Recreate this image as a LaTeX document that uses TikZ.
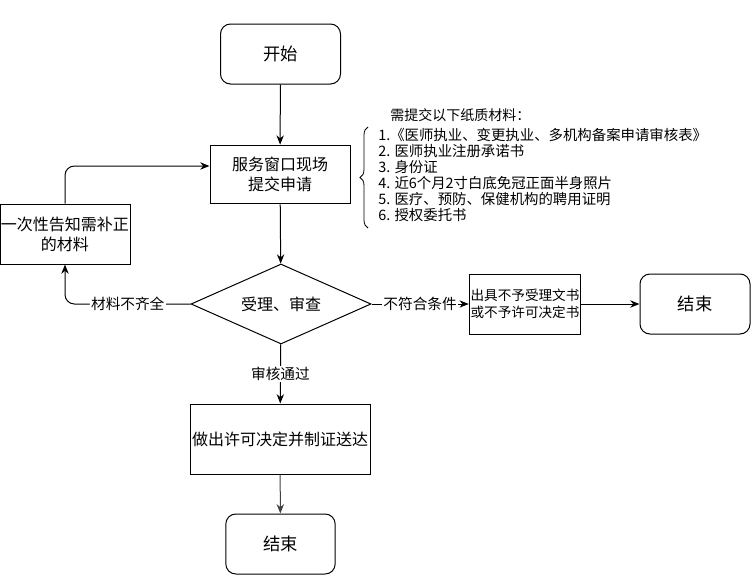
\documentclass[tikz,border=0pt]{standalone}
\usepackage{fontspec}
\setmainfont{Noto Sans CJK SC}
\usetikzlibrary{shapes.geometric,arrows.meta,decorations.pathreplacing,calc}
\begin{document}
\begin{tikzpicture}[x=0.75pt,y=-0.75pt,
  box/.style={draw, line width=0.75pt, align=center, inner sep=1pt, font=\fontsize{12}{15}\selectfont},
  rbox/.style={box, rounded corners=7.5pt, font=\fontsize{13}{15}\selectfont},
  dia/.style={draw, diamond, aspect=2.25, line width=0.75pt, inner sep=0pt, minimum width=135pt, minimum height=60pt, font=\fontsize{12}{15}\selectfont},
  arr/.style={-{Stealth[length=7pt,width=5.5pt]}, line width=0.75pt},
  lbl/.style={fill=white, inner sep=1pt, font=\fontsize{11}{13}\selectfont}]
\useasboundingbox (0,0) rectangle (751,575);
\node[rbox, minimum width=90pt, minimum height=45pt] (start) at (280.5,54) {开始};
\node[box, minimum width=105pt, minimum height=44pt] (svc) at (280,174.5) {服务窗口现场\\提交申请};
\node[box, inner sep=0.5pt, minimum width=97.5pt, minimum height=45pt] (fix) at (65,234) {一次性告知需补正\\的材料};
\node[dia] (chk) at (281,304) {受理、审查};
\node[box, minimum width=82.5pt, minimum height=45pt, font=\fontsize{10.2}{13}\selectfont] (rej) at (525,304) {出具不予受理文书\\或不予许可决定书};
\node[rbox, minimum width=82.5pt, minimum height=45pt] (end1) at (695,304) {结束};
\node[box, minimum width=135pt, minimum height=52.5pt] (act) at (280,439) {做出许可决定并制证送达};
\node[rbox, minimum width=82pt, minimum height=45pt] (end2) at (280.5,544) {结束};

\node[anchor=west, inner sep=0pt, font=\fontsize{10.5}{12}\selectfont] (hdr) at (390,115) {需提交以下纸质材料：};
\node[anchor=west, align=left, inner sep=0pt, font=\fontsize{10.8}{12}\selectfont] (lst) at (378,175) {1.《医师执业、变更执业、多机构备案申请审核表》\\2. 医师执业注册承诺书\\3. 身份证\\4. 近6个月2寸白底免冠正面半身照片\\5. 医疗、预防、保健机构的聘用证明\\6. 授权委托书};
\coordinate (bt) at (368,228);
\coordinate (bb) at (368,127);
\draw[line width=0.6pt, decorate, decoration={brace, amplitude=6pt}] (bt) -- (bb);

\draw[arr] (start) -- (svc);
\draw[arr] (svc) -- (chk);
\draw[arr] (chk) -- node[lbl]{审核通过} (act);
\draw[arr, black!75] (act) -- (end2);
\draw[arr, rounded corners=7pt] (chk.west) -| node[lbl, pos=0.25]{材料不齐全} (fix.south);
\draw[arr] (chk.east) -- node[lbl]{不符合条件} (rej);
\draw[arr] (rej) -- (end1);
\coordinate (svcin) at ($(svc.west)+(0,-8.5)$);
\draw[arr, rounded corners=7pt] (fix.north) |- (svcin);
\end{tikzpicture}
\end{document}
